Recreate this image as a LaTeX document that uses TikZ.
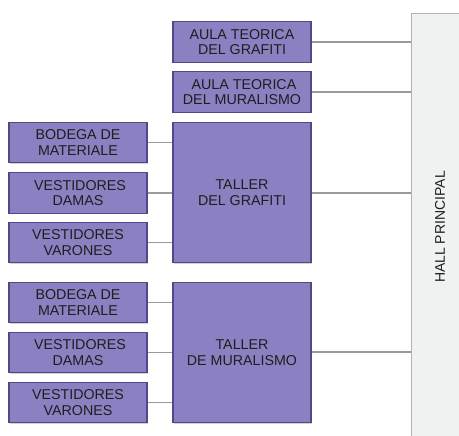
\documentclass[tikz,border=0pt]{standalone}
\usepackage{fontspec}
\setmainfont{Liberation Sans}
\usetikzlibrary{shadows}
\definecolor{boxfill}{HTML}{8B80C2}
\definecolor{boxline}{HTML}{514888}
\definecolor{hallfill}{HTML}{F0F2F1}
\definecolor{linkgray}{HTML}{9A9A9A}
\definecolor{txt}{HTML}{1E1E1E}
\tikzset{
  room/.style={draw=boxline,fill=boxfill,line width=0.9pt,text=txt,align=center,
    inner sep=0pt,minimum width=103.5pt,minimum height=30.5pt,
    font=\fontsize{10.7}{11.6}\selectfont,
    drop shadow={shadow xshift=0.8pt,shadow yshift=-0.8pt,opacity=0.35}},
  bigroom/.style={room,minimum height=105.5pt},
  link/.style={draw=linkgray,line width=0.8pt}
}
\begin{document}
\begin{tikzpicture}[x=0.75pt,y=-0.75pt]
\useasboundingbox (0,0) rectangle (459,435);
\begin{scope}
\clip (0,0) rectangle (459,435);
\fill[white] (0,0) rectangle (459,435);
% hall
\draw[draw=gray!60,fill=hallfill,line width=0.7pt] (411,13) rectangle (470,445);
\node[rotate=90,text=txt,font=\fontsize{10.5}{12}\selectfont] (hall) at (440,227) {HALL PRINCIPAL};
\coordinate (h1) at (411,42);
\coordinate (h2) at (411,92);
\coordinate (h3) at (411,193);
\coordinate (h4) at (411,352);
\end{scope}
% aulas
\node[room] (aula1) at (242,42) {AULA TEORICA\\DEL GRAFITI};
\node[room] (aula2) at (242,92) {\ AULA TEORICA\\DEL MURALISMO};
% talleres
\node[bigroom] (taller1) at (242,192.5) {TALLER\\DEL GRAFITI};
\node[bigroom] (taller2) at (242,352.5) {TALLER\\DE MURALISMO};
% servicios del grafiti
\node[room] (bod1) at (78,142.5) {BODEGA DE\\MATERIALE};
\node[room] (dam1) at (78,193) {\ VESTIDORES\\DAMAS};
\node[room] (var1) at (78,242.5) {VESTIDORES\\VARONES};
% servicios del muralismo
\node[room] (bod2) at (78,302.5) {BODEGA DE\\MATERIALE};
\node[room] (dam2) at (78,352.5) {\ VESTIDORES\\DAMAS};
\node[room] (var2) at (78,402.5) {VESTIDORES\\VARONES};
% conexiones
\draw[link] (aula1) -- (h1);
\draw[link] (aula2) -- (h2);
\draw[link] (taller1.east |- h3) -- (h3);
\draw[link] (taller2.east |- h4) -- (h4);
\foreach \s in {bod1,dam1,var1}
  \draw[link] (\s.east) -- (\s.east -| taller1.west);
\foreach \s in {bod2,dam2,var2}
  \draw[link] (\s.east) -- (\s.east -| taller2.west);
\end{tikzpicture}
\end{document}
